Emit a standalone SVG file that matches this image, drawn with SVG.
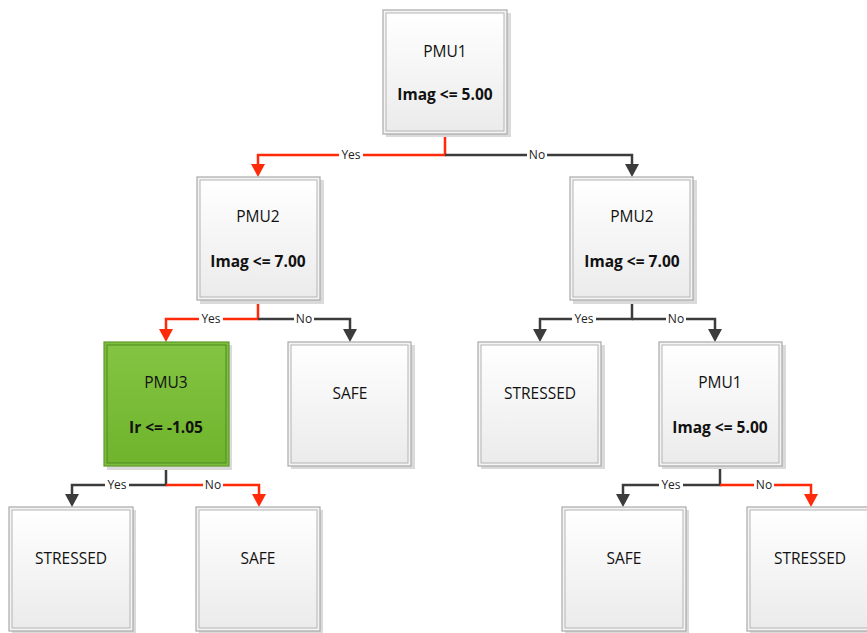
<svg xmlns="http://www.w3.org/2000/svg" width="867" height="633" viewBox="0 0 867 633">
<defs>
<linearGradient id="gGray" x1="0" y1="0" x2="0" y2="1"><stop offset="0" stop-color="#ffffff"/><stop offset="1" stop-color="#ebebeb"/></linearGradient>
<linearGradient id="gGreen" x1="0" y1="0" x2="0" y2="1"><stop offset="0" stop-color="#84c443"/><stop offset="1" stop-color="#6fb42c"/></linearGradient>
</defs>
<style>
.sh{fill:#dadada;}
.out{fill:#f4f4f4;stroke:#a9a9a9;stroke-width:1.2;}
.in{fill:url(#gGray);stroke:#b4b4b4;stroke-width:1;}
.outg{fill:#7cbd3d;stroke:#5f9a2c;stroke-width:1.2;}
.ing{fill:url(#gGreen);stroke:#4f8a22;stroke-width:1;}
.t{font-family:"Open Sans","Liberation Sans",sans-serif;font-size:15.5px;fill:#111;text-anchor:middle;}
.b{font-weight:bold;}
.red{fill:none;stroke:#ff2a0a;stroke-width:2.5;}
.gry{fill:none;stroke:#3c3c3c;stroke-width:2.5;}
.ahr{fill:#ff2a0a;}
.ahg{fill:#3c3c3c;}
.lb{font-family:"Open Sans","Liberation Sans",sans-serif;font-size:12px;fill:#222;text-anchor:middle;}
.lbg{fill:#ffffff;}
</style>
<rect width="867" height="633" fill="#ffffff"/>

<g id="connectors">
<path class="red" d="M445,134 V155 H258 V166"/>
<path class="gry" d="M445,155 H632 V166"/>
<path class="ahr" d="M251,164 L265,164 L258,177 Z"/>
<path class="ahg" d="M625,164 L639,164 L632,177 Z"/>
<rect class="lbg" x="339" y="148" width="24" height="13"/>
<text class="lb" x="351" y="159">Yes</text>
<rect class="lbg" x="527" y="148" width="20" height="13"/>
<text class="lb" x="537" y="159">No</text>

<path class="red" d="M258,300 V319 H166 V331"/>
<path class="gry" d="M258,319 H350 V331"/>
<path class="ahr" d="M159,329 L173,329 L166,342 Z"/>
<path class="ahg" d="M343,329 L357,329 L350,342 Z"/>
<rect class="lbg" x="199" y="312" width="24" height="13"/>
<text class="lb" x="211" y="323">Yes</text>
<rect class="lbg" x="294" y="312" width="20" height="13"/>
<text class="lb" x="304" y="323">No</text>

<path class="gry" d="M632,300 V319 H540 V331"/>
<path class="gry" d="M632,319 H715 V331"/>
<path class="ahg" d="M533,329 L547,329 L540,342 Z"/>
<path class="ahg" d="M708,329 L722,329 L715,342 Z"/>
<rect class="lbg" x="572" y="312" width="24" height="13"/>
<text class="lb" x="584" y="323">Yes</text>
<rect class="lbg" x="666" y="312" width="20" height="13"/>
<text class="lb" x="676" y="323">No</text>

<path class="gry" d="M166,466 V485 H72 V496"/>
<path class="red" d="M166,485 H259 V496"/>
<path class="ahg" d="M65,494 L79,494 L72,507 Z"/>
<path class="ahr" d="M252,494 L266,494 L259,507 Z"/>
<rect class="lbg" x="105" y="478" width="24" height="13"/>
<text class="lb" x="117" y="489">Yes</text>
<rect class="lbg" x="203" y="478" width="20" height="13"/>
<text class="lb" x="213" y="489">No</text>

<path class="gry" d="M720,466 V485 H623 V496"/>
<path class="red" d="M720,485 H811 V496"/>
<path class="ahg" d="M616,494 L630,494 L623,507 Z"/>
<path class="ahr" d="M804,494 L818,494 L811,507 Z"/>
<rect class="lbg" x="659" y="478" width="24" height="13"/>
<text class="lb" x="671" y="489">Yes</text>
<rect class="lbg" x="754" y="478" width="20" height="13"/>
<text class="lb" x="764" y="489">No</text>
</g>

<g id="n1">
<rect class="sh" x="386" y="13" width="125" height="124"/>
<rect class="out" x="383" y="10" width="124" height="124"/>
<rect class="in" x="386" y="13" width="118" height="118"/>
<text class="t" x="445" y="57">PMU1</text>
<text class="t b" x="445" y="100">Imag &lt;= 5.00</text>
</g>

<g id="n2">
<rect class="sh" x="200" y="180" width="124" height="124"/>
<rect class="out" x="197" y="177" width="123" height="123"/>
<rect class="in" x="200" y="180" width="117" height="117"/>
<text class="t" x="258" y="222">PMU2</text>
<text class="t b" x="258" y="267">Imag &lt;= 7.00</text>
</g>

<g id="n3">
<rect class="sh" x="573" y="180" width="124" height="124"/>
<rect class="out" x="570" y="177" width="123" height="123"/>
<rect class="in" x="573" y="180" width="117" height="117"/>
<text class="t" x="632" y="222">PMU2</text>
<text class="t b" x="632" y="267">Imag &lt;= 7.00</text>
</g>

<g id="n4">
<rect class="sh" x="107" y="345" width="125" height="125"/>
<rect class="outg" x="104" y="342" width="125" height="124"/>
<rect class="ing" x="107" y="345" width="119" height="118"/>
<text class="t" x="166" y="388">PMU3</text>
<text class="t b" x="166" y="433">Ir &lt;= -1.05</text>
</g>

<g id="n5">
<rect class="sh" x="291" y="345" width="124" height="124"/>
<rect class="out" x="288" y="342" width="123" height="124"/>
<rect class="in" x="291" y="345" width="117" height="118"/>
<text class="t" x="350" y="399">SAFE</text>
</g>

<g id="n6">
<rect class="sh" x="481" y="345" width="124" height="124"/>
<rect class="out" x="478" y="342" width="123" height="124"/>
<rect class="in" x="481" y="345" width="117" height="118"/>
<text class="t" x="540" y="399">STRESSED</text>
</g>

<g id="n7">
<rect class="sh" x="662" y="345" width="124" height="124"/>
<rect class="out" x="659" y="342" width="123" height="124"/>
<rect class="in" x="662" y="345" width="117" height="118"/>
<text class="t" x="720" y="388">PMU1</text>
<text class="t b" x="720" y="433">Imag &lt;= 5.00</text>
</g>

<g id="n8">
<rect class="sh" x="12" y="510" width="124" height="124"/>
<rect class="out" x="9" y="507" width="124" height="124"/>
<rect class="in" x="12" y="510" width="118" height="118"/>
<text class="t" x="71" y="564">STRESSED</text>
</g>

<g id="n9">
<rect class="sh" x="199" y="510" width="124" height="124"/>
<rect class="out" x="196" y="507" width="124" height="124"/>
<rect class="in" x="199" y="510" width="118" height="118"/>
<text class="t" x="258" y="564">SAFE</text>
</g>

<g id="n10">
<rect class="sh" x="565" y="510" width="124" height="124"/>
<rect class="out" x="562" y="507" width="124" height="124"/>
<rect class="in" x="565" y="510" width="118" height="118"/>
<text class="t" x="624" y="564">SAFE</text>
</g>

<g id="n11">
<rect class="sh" x="750" y="510" width="124" height="124"/>
<rect class="out" x="747" y="507" width="124" height="124"/>
<rect class="in" x="750" y="510" width="118" height="118"/>
<text class="t" x="810" y="564">STRESSED</text>
</g>
</svg>
